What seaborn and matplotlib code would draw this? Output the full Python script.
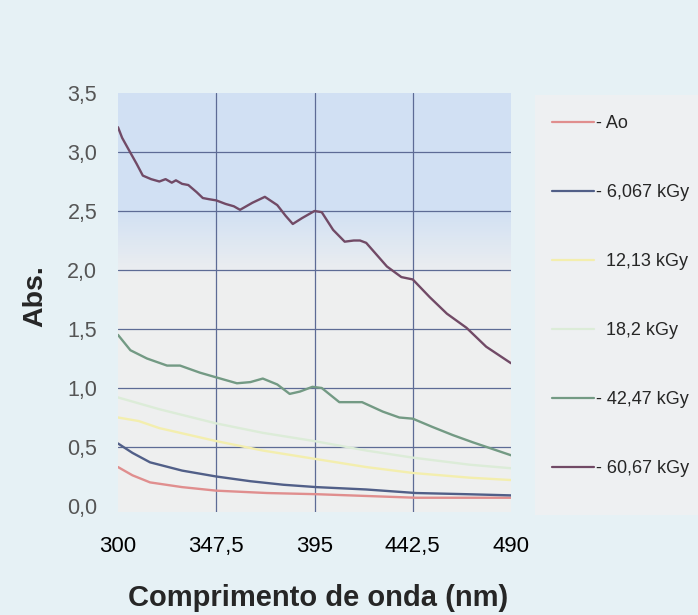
import numpy as np
import pandas as pd
import matplotlib.pyplot as plt
import matplotlib.patches as mpatches
import seaborn as sns

# UV-Vis absorbance curves
wl_ao = [300, 307, 315.5, 331, 347.5, 372, 396, 420, 444, 468, 490]
abs_ao = [0.33, 0.26, 0.20, 0.16, 0.13, 0.11, 0.10, 0.085, 0.07, 0.07, 0.07]

wl_6 = [300, 307, 315.5, 331, 347.5, 364, 380, 396, 420, 444, 468.5, 490]
abs_6 = [0.53, 0.45, 0.37, 0.30, 0.25, 0.21, 0.18, 0.16, 0.14, 0.11, 0.10, 0.09]

wl_12 = [300, 310, 320, 335, 347.5, 370, 395, 420, 442.5, 470, 490]
abs_12 = [0.75, 0.72, 0.66, 0.60, 0.55, 0.47, 0.40, 0.33, 0.28, 0.24, 0.22]

wl_18 = [300, 320, 347.5, 370, 395, 420, 442.5, 470, 490]
abs_18 = [0.92, 0.82, 0.70, 0.62, 0.55, 0.47, 0.41, 0.35, 0.32]

wl_42 = [300, 306, 314, 323.7, 330, 339.6, 347.5, 357.5, 364, 370, 377, 383,
         388, 394, 398.5, 407, 418, 428, 436, 442.5, 452, 462, 471.5, 490]
abs_42 = [1.45, 1.32, 1.25, 1.19, 1.19, 1.13, 1.09, 1.04, 1.05, 1.08, 1.03, 0.95,
          0.97, 1.01, 1.00, 0.88, 0.88, 0.80, 0.75, 0.74, 0.67, 0.60, 0.54, 0.43]

wl_60 = [300, 302, 305.8, 309, 312, 316, 320, 323, 326, 328, 331, 334, 338, 341,
         344, 347.5, 352, 356, 359, 362, 365, 371, 377, 381, 384.5, 389, 395,
         398.5, 404, 409.6, 414, 417, 420, 425, 430, 437, 442.5, 450.7, 459,
         468.5, 478, 490]
abs_60 = [3.21, 3.12, 3.00, 2.90, 2.80, 2.77, 2.75, 2.77, 2.74, 2.76, 2.73, 2.72,
          2.66, 2.61, 2.60, 2.59, 2.56, 2.54, 2.51, 2.54, 2.57, 2.62, 2.55, 2.46,
          2.39, 2.44, 2.50, 2.49, 2.34, 2.24, 2.25, 2.25, 2.23, 2.13, 2.03, 1.94,
          1.92, 1.77, 1.63, 1.51, 1.35, 1.21]

labels = ["- Ao", "- 6,067 kGy", "  12,13 kGy", "  18,2 kGy", "- 42,47 kGy", "- 60,67 kGy"]
colors = ["#e08e8e", "#515f88", "#f3eeae", "#dcecd8", "#739a84", "#714a66"]

series = [(wl_ao, abs_ao), (wl_6, abs_6), (wl_12, abs_12),
          (wl_18, abs_18), (wl_42, abs_42), (wl_60, abs_60)]
frames = []
for lab, (w, a) in zip(labels, series):
    frames.append(pd.DataFrame({"wl": w, "abs": a, "amostra": lab}))
df = pd.concat(frames, ignore_index=True)

xticks = [300, 347.5, 395, 442.5, 490]
xticklabels = ["300", "347,5", "395", "442,5", "490"]
yticks = [0.0, 0.5, 1.0, 1.5, 2.0, 2.5, 3.0, 3.5]
yticklabels = ["0,0", "0,5", "1,0", "1,5", "2,0", "2,5", "3,0", "3,5"]

sns.set_style("white")
plt.rcParams["font.family"] = ["Liberation Sans", "DejaVu Sans"]

fig = plt.figure(figsize=(6.98, 6.15), dpi=100, facecolor="#e6f1f5")

# light legend panel on the right
fig.patches.append(mpatches.Rectangle((535 / 698, 1 - 515 / 615), 163 / 698, 420 / 615,
                                      transform=fig.transFigure, facecolor="#eef0f2",
                                      edgecolor="none", zorder=-1))

ax = fig.add_axes([118 / 698, 1 - 512 / 615, 393 / 698, 419 / 615])
ylo = -(512 - 506) / 118
ax.set_xlim(300, 490)
ax.set_ylim(ylo, 3.5)

# background gradient: blue at the top fading to light grey
grad = np.linspace(0, 1, 256).reshape(-1, 1)
top = np.array([0.82, 0.88, 0.955])
bottom = np.array([0.935, 0.938, 0.94])
w = np.clip((grad - 0.56) / 0.16, 0, 1)
img = bottom + (top - bottom) * w[..., None]
ax.imshow(img, extent=[300, 490, ylo, 3.5], aspect="auto", origin="lower", zorder=0)

for v in [347.5, 395, 442.5]:
    ax.axvline(v, color="#5d6b95", lw=0.9, zorder=1)
for h in [0.5, 1.0, 1.5, 2.0, 2.5, 3.0]:
    ax.axhline(h, color="#5d6b95", lw=0.9, zorder=1)

sns.lineplot(data=df, x="wl", y="abs", hue="amostra", palette=colors,
             hue_order=labels, sort=False, lw=1.7, ax=ax, legend=True, zorder=3)

for s in ax.spines.values():
    s.set_visible(False)

ax.set_xticks(xticks)
ax.set_xticklabels(xticklabels, fontsize=16, color="black")
ax.set_yticks(yticks)
ax.set_yticklabels(yticklabels, fontsize=15.5, color="#555555")
ax.tick_params(axis="x", length=0, pad=17)
ax.tick_params(axis="y", length=0, pad=15)

ax.set_xlabel("Comprimento de onda (nm)", fontsize=21, fontweight="bold")
ax.xaxis.set_label_coords((318 - 118) / 393, -(584 - 512) / 419)
ax.set_ylabel("Abs.", fontsize=20.5, fontweight="bold")
ax.yaxis.set_label_coords(-(118 - 48) / 393, (512 - 296) / 419)

leg = ax.legend(loc="upper left", bbox_to_anchor=(536 / 698, 1 - 99 / 615),
                bbox_transform=fig.transFigure, frameon=False, fontsize=13,
                handlelength=2.3, handletextpad=0.1, labelspacing=2.88)
for line in leg.get_lines():
    line.set_linewidth(1.6)

fig.savefig("out.png", dpi=100, facecolor=fig.get_facecolor())
